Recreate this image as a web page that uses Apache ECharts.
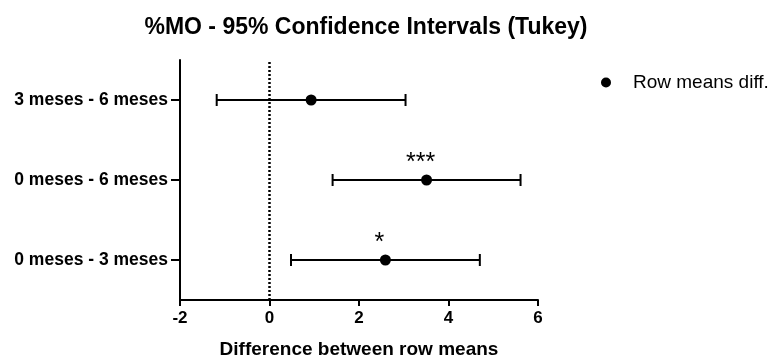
<!DOCTYPE html>
<html><head><meta charset="utf-8">
<script src="https://cdn.jsdelivr.net/npm/echarts@6/dist/echarts.min.js"></script>
<style>html,body{margin:0;padding:0;background:#fff}#c{width:774px;height:358px}</style>
</head><body><div id="c"></div>
<script>
var categories = ['0 meses - 3 meses', '0 meses - 6 meses', '3 meses - 6 meses'];
var means = [2.59, 3.51, 0.93];
var lower = [0.48, 1.41, -1.18];
var upper = [4.70, 5.61, 3.04];
var stars = ['*', '***', ''];
var xTicks = [-2, 0, 2, 4, 6];

var chart = echarts.init(document.getElementById('c'));
var F = 'Liberation Sans, Arial, sans-serif';
var errData = categories.map(function (c, i) { return [i, lower[i], upper[i]]; });
var dotData = categories.map(function (c, i) { return [means[i], i]; });
var starData = categories.map(function (c, i) { return [means[i], i, stars[i]]; });

chart.setOption({
  animation: false,
  title: { text: '%MO - 95% Confidence Intervals (Tukey)', left: 361, textAlign: 'center', top: 11,
    textStyle: { fontFamily: F, fontSize: 23, fontWeight: 'bold', color: '#000' } },
  legend: { left: 596, top: 68, icon: 'circle', itemWidth: 44, itemHeight: 10, itemGap: 10,
    itemStyle: { opacity: 1, color: '#000' },
    textStyle: { fontFamily: F, fontSize: 19, color: '#000' }, data: ['Row means diff.'] },
  grid: { left: 180, right: 236, top: 60, bottom: 58, outerBoundsMode: 'none', containLabel: false },
  xAxis: {
    type: 'value', min: xTicks[0], max: xTicks[xTicks.length - 1], interval: 2,
    name: 'Difference between row means', nameLocation: 'middle', nameGap: 40,
    nameTextStyle: { fontFamily: F, fontSize: 19, fontWeight: 'bold', color: '#000' },
    axisLine: { show: true, onZero: false, lineStyle: { color: '#000', width: 2 } },
    axisTick: { show: true, length: 6, lineStyle: { color: '#000', width: 2 } },
    axisLabel: { fontFamily: F, fontSize: 17, fontWeight: 'bold', color: '#000', margin: 10 },
    splitLine: { show: false }
  },
  yAxis: {
    type: 'category', data: categories, boundaryGap: true,
    axisLine: { show: true, onZero: false, lineStyle: { color: '#000', width: 2 } },
    axisTick: { show: true, alignWithLabel: true, length: 9, lineStyle: { color: '#000', width: 2 } },
    axisLabel: { fontFamily: F, fontSize: 17.5, fontWeight: 'bold', color: '#000', margin: 12 },
    splitLine: { show: false }
  },
  series: [
    {
      type: 'custom', name: 'err', silent: true, data: errData,
      renderItem: function (params, api) {
        var y = api.value(0);
        var p1 = api.coord([api.value(1), y]);
        var p2 = api.coord([api.value(2), y]);
        var h = 6;
        var st = { stroke: '#000', lineWidth: 2 };
        return { type: 'group', children: [
          { type: 'line', shape: { x1: p1[0], y1: p1[1], x2: p2[0], y2: p2[1] }, style: st },
          { type: 'line', shape: { x1: p1[0], y1: p1[1] - h, x2: p1[0], y2: p1[1] + h }, style: st },
          { type: 'line', shape: { x1: p2[0], y1: p2[1] - h, x2: p2[0], y2: p2[1] + h }, style: st }
        ] };
      },
      encode: { x: [1, 2], y: 0 },
      markLine: {
        silent: true, symbol: 'none', label: { show: false },
        lineStyle: { color: '#000', type: [2, 2], width: 2.5, opacity: 1 },
        emphasis: { disabled: true },
        data: [{ xAxis: 0 }]
      }
    },
    {
      type: 'scatter', name: 'Row means diff.', data: dotData, symbol: 'circle', symbolSize: 11,
      itemStyle: { color: '#000', opacity: 1 }, z: 5
    },
    {
      type: 'custom', name: 'stars', silent: true, data: starData,
      renderItem: function (params, api) {
        var p = api.coord([api.value(0), api.value(1)]);
        return { type: 'text', x: p[0] - 6, y: p[1] - 17,
          style: { text: starData[params.dataIndex][2], fill: '#000', fontFamily: F, fontSize: 25,
            align: 'center', verticalAlign: 'middle' } };
      },
      encode: { x: 0, y: 1 }
    }
  ]
});
</script></body></html>
